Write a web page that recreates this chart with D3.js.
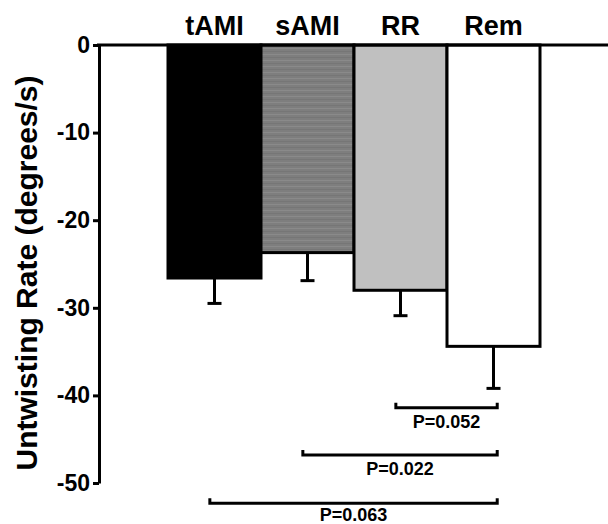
<!DOCTYPE html>
<html>
<head>
<meta charset="utf-8">
<script src="https://cdn.jsdelivr.net/npm/d3@7"></script>
<style>
body {margin:0; background:#fff;}
text {font-family: Arial, "Liberation Sans", sans-serif; font-weight: bold;}
</style>
</head>
<body>
<svg width="608" height="524"></svg>
<script>
/*** Data ***/
const groups  = ["tAMI", "sAMI", "RR", "Rem"]
const means   = [-26.6, -23.7, -28.0, -34.4]
const errors  = [2.9, 3.2, 2.9, 4.8]
const fills   = ["#000000", "pattern", "#c0c0c0", "#ffffff"]
const yTicks  = [0, -10, -20, -30, -40, -50]
// comparisons: [from, to, level (data units), label]
const pFrom   = ["RR", "sAMI", "tAMI"]
const pTo     = ["Rem", "Rem", "Rem"]
const pLevel  = [-41.4, -46.8, -52.3]
const pLabels = ["P=0.052", "P=0.022", "P=0.063"]

/*** Setup ***/
var svg = d3.select("svg")
var x = d3.scaleBand().domain(groups).range([168, 540]).paddingInner(0).paddingOuter(0)
var y = d3.scaleLinear().domain([0, -50]).range([45, 483])
var bw = x.bandwidth()

var defs = svg.append("defs")
var pat = defs.append("pattern")
	.attr("id", "stripes")
	.attr("patternUnits", "userSpaceOnUse")
	.attr("width", 8).attr("height", 6)
pat.append("rect").attr("width", 8).attr("height", 6).attr("fill", "#7e7e7e")
pat.append("rect").attr("y", 0).attr("width", 8).attr("height", 1).attr("fill", "#8a8a8a")
pat.append("rect").attr("y", 3).attr("width", 8).attr("height", 1).attr("fill", "#767676")

// bars
svg.append("g").selectAll("rect")
	.data(groups)
	.enter()
	.append("rect")
	.attr("x", (d) => x(d))
	.attr("y", y(0))
	.attr("width", bw)
	.attr("height", (d, i) => y(means[i]) - y(0))
	.attr("fill", (d, i) => fills[i] == "pattern" ? "url(#stripes)" : fills[i])
	.attr("stroke", "#000")
	.attr("stroke-width", 3)

// error bars (down only)
var eb = svg.append("g").attr("stroke", "#000").attr("stroke-width", 3)
groups.forEach((g, i) => {
	var cx = x(g) + bw / 2
	eb.append("line").attr("x1", cx).attr("x2", cx)
		.attr("y1", y(means[i])).attr("y2", y(means[i] - errors[i]))
	eb.append("line").attr("x1", cx - 7).attr("x2", cx + 7)
		.attr("y1", y(means[i] - errors[i])).attr("y2", y(means[i] - errors[i]))
})

// y axis
var yAxis = svg.append("g")
	.attr("transform", "translate(99,0)")
	.call(d3.axisLeft(y).tickValues(yTicks).tickFormat((d) => String(d))
		.tickSize(6).tickSizeOuter(0).tickPadding(3))
yAxis.select(".domain").attr("stroke-width", 3).attr("stroke", "#000")
yAxis.selectAll(".tick line").attr("stroke-width", 3).attr("stroke", "#000")
yAxis.selectAll(".tick text").attr("font-size", 23).attr("fill", "#000")
	.attr("font-family", "Arial, 'Liberation Sans', sans-serif").attr("font-weight", "bold")

// top (zero) line
svg.append("line").attr("x1", 97).attr("x2", 608).attr("y1", y(0)).attr("y2", y(0))
	.attr("stroke", "#000").attr("stroke-width", 3)

// group labels on top
svg.append("g").selectAll("text")
	.data(groups)
	.enter()
	.append("text")
	.attr("x", (d) => x(d) + bw / 2)
	.attr("y", 35)
	.attr("text-anchor", "middle")
	.attr("font-size", 27)
	.text((d) => d)

// y label
svg.append("text")
	.attr("transform", "translate(37," + 273 + ") rotate(-90)")
	.attr("text-anchor", "middle")
	.attr("font-size", 30)
	.text("Untwisting Rate (degrees/s)")

// significance brackets
var br = svg.append("g")
pFrom.forEach((f, i) => {
	var x1 = x(f) + bw * 0.45
	var x2 = x(pTo[i]) + bw * 0.54
	var yy = y(pLevel[i])
	br.append("path")
		.attr("d", "M" + x1 + "," + (yy - 5) + "V" + yy + "H" + x2 + "V" + (yy - 5))
		.attr("fill", "none").attr("stroke", "#000").attr("stroke-width", 3)
	br.append("text")
		.attr("x", (x1 + x2) / 2)
		.attr("y", Math.min(yy + 20, 521))
		.attr("text-anchor", "middle")
		.attr("font-size", 18)
		.text(pLabels[i])
})
</script>
</body>
</html>
